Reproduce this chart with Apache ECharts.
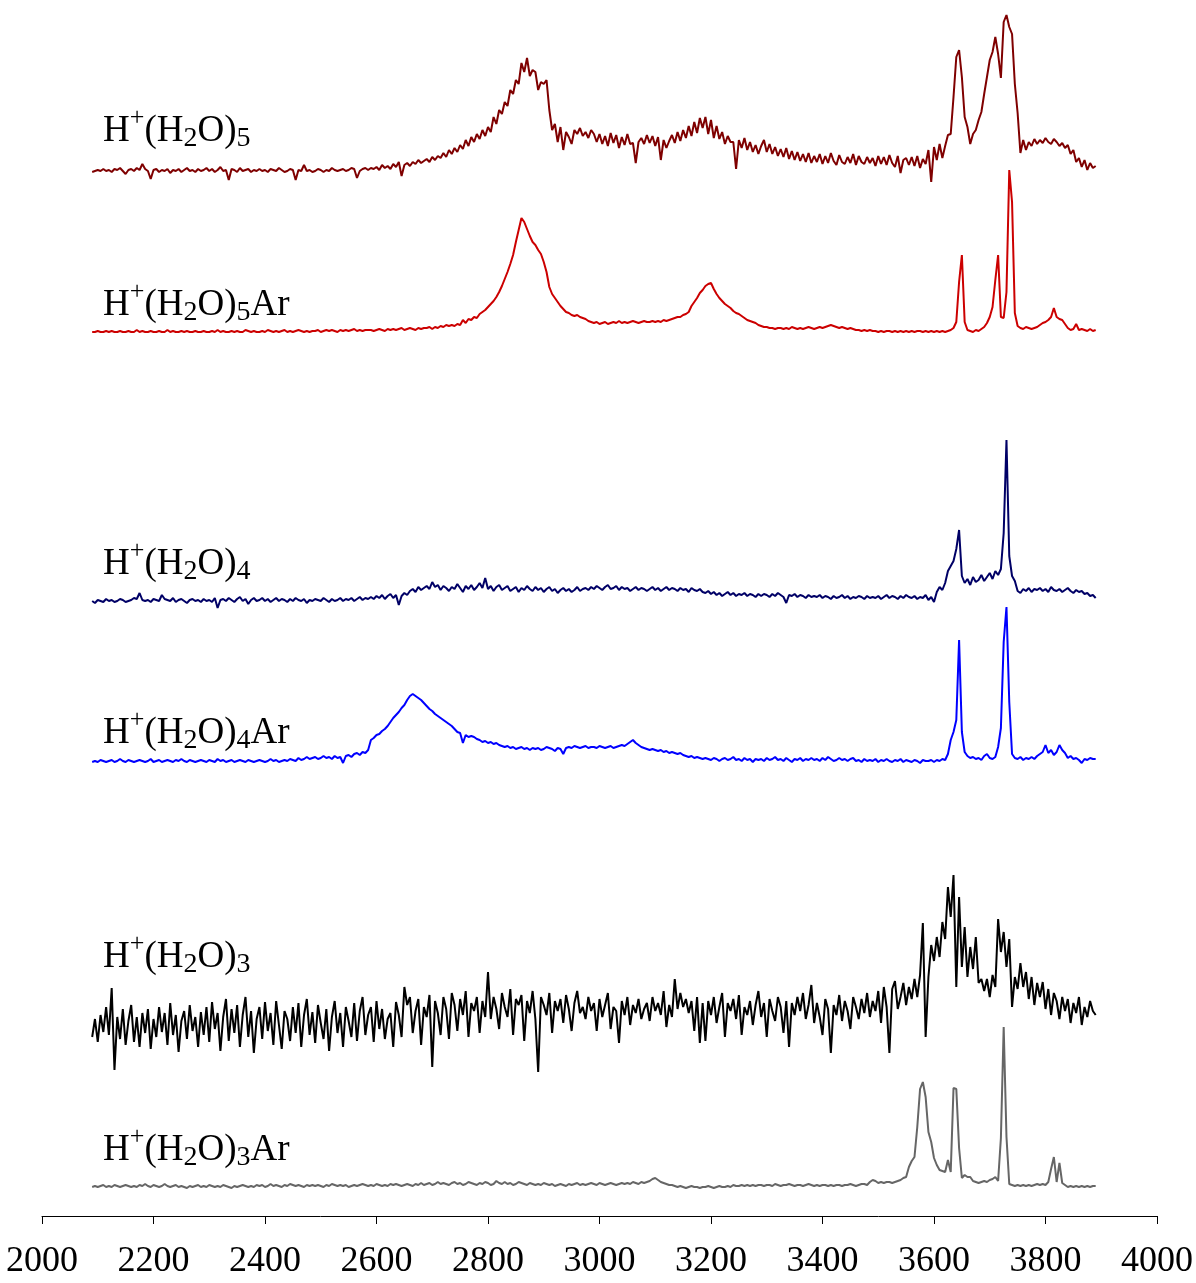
<!DOCTYPE html>
<html><head><meta charset="utf-8">
<script src="https://cdn.jsdelivr.net/npm/echarts@6/dist/echarts.min.js"></script>
<style>html,body{margin:0;padding:0;background:#fff}#c{width:1196px;height:1283px}</style>
</head><body><div id="c"></div>
<script>
// wavenumber grid (cm^-1) of all spectra
const wnStart = 2090, wnStep = 5;
// x-axis tick labels
const xTicks = [2000, 2200, 2400, 2600, 2800, 3000, 3200, 3400, 3600, 3800, 4000];
// trace labels
const labels = ['H5', 'H5Ar', 'H4', 'H4Ar', 'H3', 'H3Ar'];

// intensities (arbitrary units), 2090..3890 step 5
const h5 = [
0,1,2,1,3,1,2,0,3,2,4,1,-2,2,3,1,4,2,8,3,
1,-7,2,3,0,2,1,3,-1,2,1,3,0,2,4,1,2,0,3,1,
2,4,1,3,0,2,5,1,2,-8,3,2,0,4,1,2,3,0,2,1,
3,1,2,0,3,2,1,4,2,0,1,3,2,-8,2,1,7,1,2,0,
1,3,2,0,2,1,4,2,1,2,3,1,2,4,3,-6,1,3,4,2,
4,3,5,2,7,4,6,3,8,5,10,-4,7,9,6,10,8,12,9,11,
13,10,15,12,16,14,19,15,22,18,24,20,27,23,32,26,35,30,38,33,
42,36,45,40,55,48,62,58,70,66,82,78,92,88,109,100,114,96,102,100,
82,90,88,92,62,42,48,30,45,22,40,35,28,42,38,44,36,40,34,42,
38,30,38,28,36,26,39,29,37,24,35,27,38,28,29,9,30,34,28,37,
29,36,26,35,12,32,24,31,37,29,40,31,42,34,46,36,50,39,54,44,
55,38,52,34,46,33,40,28,36,30,30,3,32,24,34,22,30,20,27,18,
26,32,20,28,18,25,16,23,15,24,13,21,12,20,11,18,10,19,9,16,
10,18,8,16,9,19,11,7,17,10,8,15,9,18,7,16,10,8,15,9,
14,6,16,8,15,7,17,9,5,16,-1,12,14,7,15,6,16,4,13,8,
22,-10,25,12,28,14,26,37,38,75,115,122,95,55,45,28,38,42,52,60,
78,95,112,120,135,118,94,150,157,145,138,88,59,19,32,22,30,26,33,28,
32,29,34,30,28,33,30,26,29,24,27,18,22,10,14,5,12,2,9,4,
6];

const h5Ar = [
0,0,1,0,0,1,0,1,0,0,1,0,0,1,0,0,2,0,1,0,
0,1,0,0,1,0,0,2,0,1,0,0,1,0,1,0,0,1,0,0,
1,0,0,1,0,2,0,1,0,0,1,0,1,0,0,2,1,0,1,0,
0,1,0,2,1,0,1,0,1,2,0,1,0,1,2,1,0,1,0,1,
1,2,0,1,2,1,2,1,0,2,1,2,1,2,3,1,2,1,2,2,
2,1,2,3,2,1,3,2,3,2,3,4,2,3,4,3,2,4,3,4,
4,5,3,5,4,6,5,7,6,7,6,8,7,12,9,13,12,15,14,18,
20,22,25,28,31,35,40,46,53,60,68,77,90,102,114,110,103,96,90,87,
82,78,70,60,45,38,34,30,26,23,20,19,17,16,17,15,14,13,11,10,
9,10,8,9,10,8,9,10,9,11,9,10,9,10,11,10,9,10,11,10,
10,11,10,11,10,12,11,12,13,14,15,15,17,18,20,26,30,34,39,42,
46,48,49,43,38,34,31,28,26,24,21,19,18,16,14,12,11,10,9,7,
6,5,5,4,4,3,4,4,3,4,3,5,4,3,4,3,4,5,4,3,
4,5,4,5,6,7,6,5,4,5,4,3,4,3,2,2,1,2,1,2,
1,1,0,1,0,1,1,0,1,0,1,0,1,0,1,0,1,1,0,1,
0,1,0,1,0,1,0,1,2,4,10,50,77,10,2,1,0,2,1,3,
5,9,15,25,52,77,15,14,40,162,130,19,6,4,3,5,4,3,4,5,
7,9,10,12,15,24,15,13,12,8,4,2,3,8,2,3,2,1,3,1,
2];

const h4 = [
0,-2,1,0,-1,2,0,1,-1,0,2,1,-1,0,1,3,2,8,1,0,
1,-1,2,1,0,6,2,1,0,3,-1,1,2,0,-2,1,2,0,1,-1,
2,0,1,-1,3,-7,1,2,0,3,1,-1,2,4,0,2,-3,1,3,0,
1,3,0,2,-1,1,3,0,2,1,-1,2,0,3,1,0,2,-2,1,0,
2,1,0,3,1,-1,2,0,1,3,0,2,1,3,0,2,4,1,3,2,
4,2,5,3,6,2,5,7,3,6,-4,5,8,6,10,12,9,14,11,13,
15,12,19,14,16,11,15,13,10,14,12,17,13,9,15,12,16,11,14,18,
13,23,12,15,10,14,16,11,13,15,10,12,14,9,13,11,15,12,10,14,
11,13,9,12,14,10,12,8,11,13,10,12,9,11,14,10,12,13,11,14,
12,15,13,11,14,16,12,13,15,11,14,12,13,10,12,14,11,13,12,10,
12,14,11,13,10,12,14,11,13,12,10,13,11,12,9,13,11,10,12,9,
8,10,7,9,6,8,5,7,9,6,8,5,7,6,8,5,7,6,4,7,
5,7,6,4,7,5,8,6,4,-2,6,5,7,4,6,5,3,6,4,5,
4,6,3,5,4,2,5,3,4,6,3,5,2,4,3,5,4,2,5,3,
4,3,5,2,4,6,3,5,4,2,5,3,6,4,3,5,2,4,3,6,
1,4,-1,9,14,11,18,30,35,40,52,71,25,18,22,16,24,19,21,26,
20,24,28,22,30,26,32,68,161,45,25,20,10,8,12,10,13,9,12,11,
13,10,12,9,14,11,10,12,9,11,13,10,8,11,9,10,7,8,5,6,
3];

const h4Ar = [
0,1,0,2,1,0,1,2,0,1,3,1,0,2,1,0,1,2,1,0,
1,3,0,1,2,0,1,2,1,0,2,1,3,1,0,2,1,0,1,2,
1,0,2,1,0,3,1,2,0,1,2,0,1,2,1,0,2,1,0,1,
2,1,0,1,3,1,2,0,1,2,1,3,2,1,4,2,3,5,3,4,
5,3,4,6,4,5,3,6,4,5,-1,6,7,5,8,9,7,10,9,12,
22,24,27,28,31,33,36,40,44,47,50,54,57,62,66,68,66,64,62,59,
56,53,51,48,46,44,42,40,38,36,33,30,29,19,27,25,26,25,23,22,
20,21,19,20,18,19,17,16,15,16,14,15,13,14,15,13,14,12,14,13,
14,12,13,15,14,13,11,14,13,8,14,15,14,16,15,14,15,16,14,15,
15,14,16,15,14,15,16,14,15,16,17,16,18,20,22,19,17,15,14,13,
12,13,12,11,12,10,11,9,10,9,8,9,7,6,5,6,4,5,4,3,
4,3,2,4,3,1,3,4,2,3,5,2,3,1,4,2,3,0,3,2,
3,1,4,2,3,5,2,3,1,4,2,0,3,2,4,1,3,2,4,2,
3,1,4,2,5,3,1,2,4,2,3,1,3,4,1,2,0,3,1,2,
1,3,0,2,1,3,1,0,2,1,3,0,2,1,0,2,1,-1,2,1,
1,2,0,2,1,3,2,8,22,30,42,122,30,10,6,4,5,3,4,2,
6,8,4,3,5,15,34,120,155,60,8,4,3,5,2,4,3,5,3,6,
8,10,17,9,12,7,10,17,12,9,4,6,3,4,2,-1,3,2,4,3,
3];

const h3 = [
-10,8,-15,12,-5,20,-8,39,-43,10,-12,18,-18,6,22,-15,10,-20,14,-6,
18,-22,8,-10,20,-5,14,-18,24,-8,12,-25,6,16,-12,22,-4,10,-20,15,
-8,20,-15,25,-2,14,-24,10,28,-14,18,-6,22,-20,12,30,-10,16,-26,8,
20,-12,25,-4,14,-18,26,2,-22,16,8,-14,20,-6,24,-20,12,28,-8,15,
-16,22,4,-12,18,-24,10,26,-6,14,-20,20,6,-10,24,-14,16,30,-8,12,
20,-15,26,-2,18,-12,8,14,-20,25,12,-10,40,22,30,-6,16,28,-18,20,
10,32,-40,26,14,-8,30,18,-12,34,22,-4,28,12,36,-10,24,16,30,-6,
26,10,55,8,30,18,-2,34,20,10,38,-8,28,22,32,-14,26,14,36,8,
-45,30,22,12,34,-6,26,16,28,4,32,18,-4,24,36,14,20,8,30,16,
24,-4,28,10,22,34,-2,20,16,-16,26,12,30,2,22,14,28,8,18,24,
6,30,16,24,12,36,0,22,10,48,18,34,20,28,14,26,-4,30,-16,24,
-14,26,12,30,4,20,34,-10,24,16,28,8,32,-8,20,12,26,2,22,36,
10,24,-10,28,16,6,30,20,-6,26,-20,24,12,30,16,34,8,22,42,4,
24,10,-8,28,18,-26,22,12,32,6,26,16,-2,30,20,8,28,14,34,10,
26,16,36,4,40,20,-26,38,46,18,30,44,22,40,28,48,30,52,104,-10,
50,82,66,90,70,105,88,140,110,152,40,130,60,100,50,80,58,90,44,48,
36,48,30,52,40,108,75,95,60,88,20,50,38,64,40,55,28,50,22,44,
30,45,18,38,12,34,26,8,30,16,28,4,24,14,30,2,20,10,26,16,
12];

const h3Ar = [
0,1,0,1,2,0,1,0,2,1,0,1,2,1,0,1,0,2,1,3,
1,0,2,1,0,1,3,1,0,1,2,0,1,0,-1,1,0,1,2,0,
1,0,2,1,0,1,0,2,1,0,-1,1,0,1,2,1,0,1,0,2,
1,2,0,1,3,1,2,1,0,2,1,3,2,1,2,1,0,2,1,2,
1,2,1,0,2,1,3,2,1,2,1,2,0,1,2,1,2,3,2,1,
2,1,3,2,1,2,1,3,2,3,2,1,2,3,2,1,3,2,4,2,
3,4,2,3,5,3,4,3,2,4,5,3,4,2,3,5,4,3,2,4,
3,5,4,2,3,6,4,3,5,3,4,2,3,5,4,3,2,4,3,2,
3,2,4,3,2,3,1,2,3,2,1,3,2,3,4,2,3,2,3,4,
3,2,4,3,2,3,4,3,2,3,4,3,4,3,5,4,3,5,4,5,
6,8,9,7,5,4,3,2,2,1,0,1,0,-1,0,1,0,0,-1,0,
0,1,0,-1,0,1,0,0,1,0,2,1,1,2,1,2,1,2,1,2,
2,1,2,2,1,3,2,1,2,2,3,2,1,2,2,1,2,3,2,1,
2,1,2,2,1,2,1,2,2,1,2,2,3,2,1,2,3,3,2,5,
7,6,4,5,4,5,5,4,5,6,7,9,10,20,26,30,60,98,105,90,
55,45,29,22,17,16,15,27,15,99,98,39,9,12,10,10,6,5,4,5,
6,5,7,8,10,6,49,160,50,3,2,1,2,1,2,1,2,1,2,3,
2,3,2,5,18,30,5,24,4,2,0,1,0,1,0,1,0,1,0,1,
1];

// ---- presentation ----
const PLOT_H = 1216; // grid height in px (y value == px above axis)
const traces = [
  {vals: h5,   base: 172,  color: '#7f0000', label: labels[0]},
  {vals: h5Ar, base: 332,  color: '#cc0000', label: labels[1]},
  {vals: h4,   base: 601,  color: '#000066', label: labels[2]},
  {vals: h4Ar, base: 762,  color: '#0000ff', label: labels[3]},
  {vals: h3,   base: 1027, color: '#000000', label: labels[4]},
  {vals: h3Ar, base: 1187, color: '#666666', label: labels[5]}
];
const labelText = {
  H5:   '{m|H}{sup|+}{m|(H}{sub|2}{m|O)}{sub|5}',
  H5Ar: '{m|H}{sup|+}{m|(H}{sub|2}{m|O)}{sub|5}{m|Ar}',
  H4:   '{m|H}{sup|+}{m|(H}{sub|2}{m|O)}{sub|4}',
  H4Ar: '{m|H}{sup|+}{m|(H}{sub|2}{m|O)}{sub|4}{m|Ar}',
  H3:   '{m|H}{sup|+}{m|(H}{sub|2}{m|O)}{sub|3}',
  H3Ar: '{m|H}{sup|+}{m|(H}{sub|2}{m|O)}{sub|3}{m|Ar}'
};
const labelMid = {H5: 131, H5Ar: 305, H4: 564, H4Ar: 733, H3: 957, H3Ar: 1150};
const FONT = 'Liberation Serif, Times New Roman, serif';
const rich = {
  m:   {fontFamily: FONT, fontSize: 37, lineHeight: 44, verticalAlign: 'middle', fill: '#000'},
  sup: {fontFamily: FONT, fontSize: 26, lineHeight: 26, verticalAlign: 'middle', padding: [0, 0, 26, 0], fill: '#000'},
  sub: {fontFamily: FONT, fontSize: 28, lineHeight: 28, verticalAlign: 'middle', padding: [16, 0, 0, 0], fill: '#000'}
};

const chart = echarts.init(document.getElementById('c'), null, {renderer: 'canvas'});
chart.setOption({
  animation: false,
  backgroundColor: '#fff',
  grid: {left: 42, right: 36, top: 0, bottom: 67, containLabel: false},
  xAxis: {
    type: 'value', min: 2000, max: 4000, interval: 200,
    axisLine: {show: true, lineStyle: {color: '#000', width: 1}},
    axisTick: {show: true, inside: false, length: 8, lineStyle: {color: '#000', width: 1}},
    splitLine: {show: false},
    axisLabel: {
      show: true, margin: 28, color: '#000', fontFamily: FONT, fontSize: 36,
      formatter: v => xTicks.includes(v) ? String(v) : ''
    }
  },
  yAxis: {type: 'value', min: 0, max: PLOT_H, show: false},
  series: traces.map(t => ({
    type: 'line', name: t.label, showSymbol: false, symbol: 'none', smooth: false,
    lineStyle: {color: t.color, width: 2}, itemStyle: {color: t.color},
    data: t.vals.map((v, i) => [wnStart + i * wnStep, (PLOT_H - t.base) + v])
  })),
  graphic: traces.map(t => ({
    type: 'text', x: 103, y: labelMid[t.label], silent: true,
    style: {text: labelText[t.label], rich: rich, verticalAlign: 'middle', align: 'left',
            fontFamily: FONT, fontSize: 37, fill: '#000'}
  }))
});
</script></body></html>
